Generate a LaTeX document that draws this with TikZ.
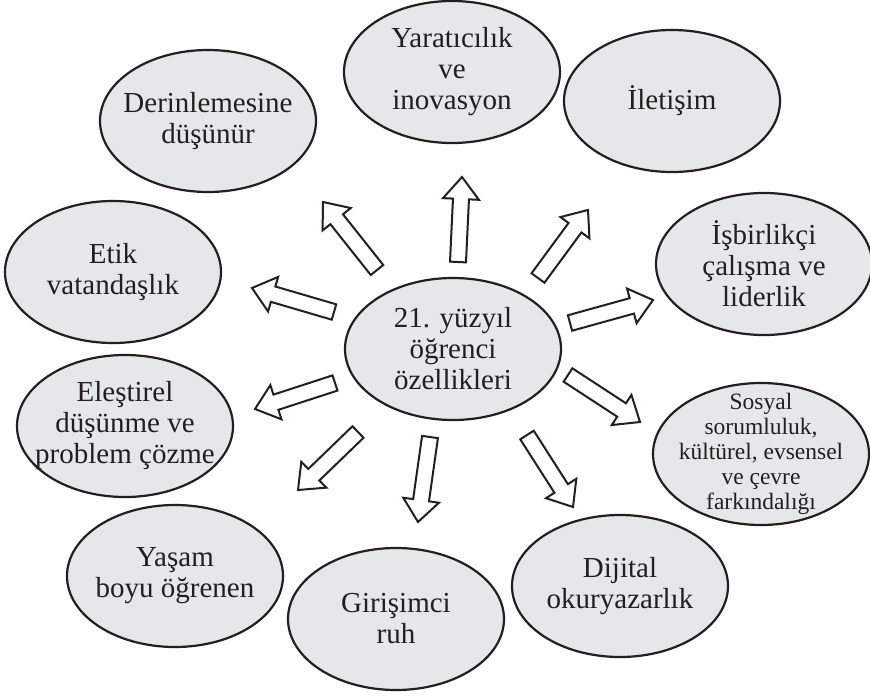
\documentclass[tikz,border=0pt]{standalone}
\usepackage{fontspec}
\setmainfont{Liberation Serif}
\usetikzlibrary{shapes.geometric,calc}
\definecolor{bubble}{HTML}{E6E7E8}
\definecolor{ink}{HTML}{231F20}
\tikzset{
  bub/.style={ellipse, draw=ink, line width=2.2pt, fill=bubble,
    minimum width=216pt, minimum height=142pt, inner xsep=-20pt, inner ysep=-20pt,
    align=center, text=ink, font=\fontsize{29}{31}\selectfont},
  smallbub/.style={bub, font=\fontsize{23.5}{25}\selectfont},
  blockarr/.style={draw=ink, line width=2pt, fill=white, line join=miter},
}
\newcommand\blockarrow[2]{%
  \coordinate (hb) at ($(#2)!22pt!(#1)$);
  \draw[blockarr] ($(#1)!8pt!90:(#2)$) -- ($(hb)!8pt!-90:(#1)$) -- ($(hb)!18pt!-90:(#1)$)
    -- (#2) -- ($(hb)!18pt!90:(#1)$) -- ($(hb)!8pt!90:(#1)$) -- ($(#1)!8pt!-90:(#2)$) -- cycle;}
\begin{document}
\begin{tikzpicture}[x=1pt,y=-1pt]
\useasboundingbox (0,0) rectangle (870,696);
\node[bub] (c) at (453,349) {21. yüzyıl\\öğrenci\\özellikleri};
\node[bub] (yar) at (452,72) {Yaratıcılık\\ve\\inovasyon};
\node[bub] (der) at (208,121) {Derinlemesine\\düşünür};
\node[bub] (ile) at (672,101) {İletişim};
\node[bub] (isb) at (764,264) {İşbirlikçi\\çalışma ve\\liderlik};
\node[smallbub] (sos) at (761,454) {Sosyal\\sorumluluk,\\kültürel, evsensel\\ve çevre\\farkındalığı};
\node[bub] (dij) at (620,586) {Dijital\\okuryazarlık};
\node[bub] (gir) at (396,619) {Girişimci\\ruh};
\node[bub] (yas) at (175,576) {Yaşam\\boyu öğrenen};
\node[bub] (ele) at (125,426) {Eleştirel\\düşünme ve\\problem çözme};
\node[bub] (etk) at (113,272) {Etik\\vatandaşlık};
% arrow end points
\coordinate (t1) at (458,262); \coordinate (h1) at (462,177);
\coordinate (t2) at (377,270); \coordinate (h2) at (323,202);
\coordinate (t3) at (538,278); \coordinate (h3) at (588,210);
\coordinate (t4) at (570,323); \coordinate (h4) at (653,300);
\coordinate (t5) at (334,312); \coordinate (h5) at (252,288);
\coordinate (t6) at (335,383); \coordinate (h6) at (255,409);
\coordinate (t7) at (358,432); \coordinate (h7) at (298,490);
\coordinate (t8) at (430,437); \coordinate (h8) at (418,522);
\coordinate (t9) at (527,435); \coordinate (h9) at (573,507);
\coordinate (t10) at (568,375); \coordinate (h10) at (640,422);
\blockarrow{t1}{h1}
\blockarrow{t2}{h2}
\blockarrow{t3}{h3}
\blockarrow{t4}{h4}
\blockarrow{t5}{h5}
\blockarrow{t6}{h6}
\blockarrow{t7}{h7}
\blockarrow{t8}{h8}
\blockarrow{t9}{h9}
\blockarrow{t10}{h10}
\end{tikzpicture}
\end{document}
